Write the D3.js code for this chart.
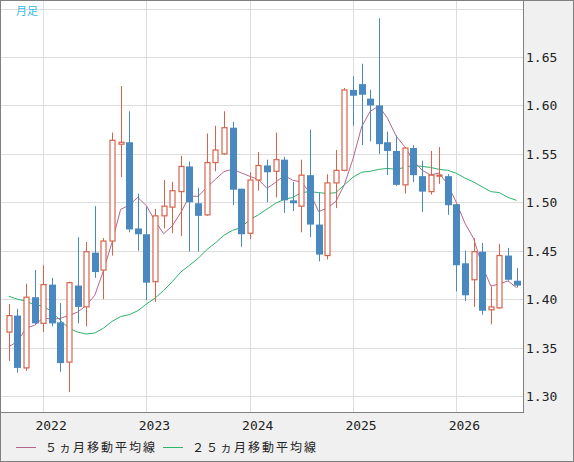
<!DOCTYPE html>
<html><head><meta charset="utf-8">
<script src="https://cdn.jsdelivr.net/npm/d3@7"></script>
<style>body{margin:0;background:#f0f0f0}svg{display:block}</style>
</head><body><svg id="c" width="574" height="462"></svg>
<script>
const opens  = [1.366,1.383,1.329,1.402,1.375,1.415,1.376,1.335,1.414,1.392,1.448,1.430,1.460,1.560,1.562,1.473,1.467,1.418,1.486,1.495,1.511,1.537,1.499,1.487,1.541,1.550,1.577,1.514,1.468,1.523,1.538,1.532,1.544,1.502,1.496,1.528,1.477,1.445,1.520,1.533,1.616,1.622,1.607,1.600,1.562,1.553,1.518,1.556,1.527,1.511,1.527,1.527,1.498,1.437,1.420,1.449,1.389,1.391,1.445,1.419];
const highs  = [1.395,1.390,1.416,1.430,1.435,1.422,1.396,1.418,1.464,1.459,1.496,1.463,1.572,1.620,1.594,1.509,1.495,1.493,1.523,1.521,1.548,1.542,1.515,1.571,1.579,1.594,1.583,1.514,1.531,1.552,1.544,1.572,1.547,1.521,1.544,1.575,1.510,1.529,1.554,1.618,1.630,1.643,1.616,1.690,1.573,1.569,1.557,1.559,1.543,1.553,1.557,1.529,1.498,1.450,1.463,1.458,1.413,1.457,1.453,1.432];
const lows   = [1.336,1.324,1.326,1.374,1.366,1.372,1.325,1.304,1.375,1.372,1.422,1.400,1.445,1.526,1.469,1.450,1.399,1.397,1.473,1.468,1.465,1.449,1.449,1.486,1.532,1.549,1.497,1.454,1.462,1.512,1.500,1.505,1.489,1.491,1.469,1.464,1.439,1.441,1.494,1.532,1.579,1.559,1.563,1.550,1.528,1.517,1.509,1.521,1.490,1.508,1.519,1.487,1.408,1.398,1.392,1.384,1.374,1.390,1.419,1.412];
const closes = [1.383,1.329,1.402,1.375,1.415,1.375,1.334,1.417,1.392,1.449,1.428,1.460,1.564,1.562,1.472,1.467,1.417,1.486,1.496,1.512,1.537,1.500,1.486,1.541,1.554,1.577,1.513,1.467,1.523,1.538,1.531,1.544,1.502,1.499,1.528,1.477,1.446,1.520,1.533,1.616,1.610,1.611,1.600,1.560,1.553,1.518,1.556,1.528,1.511,1.528,1.528,1.497,1.435,1.404,1.449,1.388,1.392,1.445,1.420,1.414];
const ma5Start = [1.351,1.356,1.370,1.373];
const ma25 = [1.403,1.400,1.398,1.394,1.393,1.387,1.378,1.370,1.366,1.364,1.365,1.370,1.377,1.382,1.384,1.388,1.395,1.401,1.409,1.418,1.428,1.435,1.442,1.451,1.458,1.466,1.471,1.474,1.482,1.487,1.493,1.499,1.503,1.505,1.510,1.511,1.510,1.509,1.510,1.518,1.526,1.531,1.532,1.534,1.535,1.534,1.536,1.538,1.537,1.536,1.534,1.533,1.530,1.525,1.521,1.516,1.511,1.510,1.505,1.502];
const yTicks = [1.30,1.35,1.40,1.45,1.50,1.55,1.60,1.65,1.70];
const yearLabels = ["2022","2023","2024","2025","2026"];
const yearIdx = [4,16,28,40,52];

const ma5 = closes.map((c,i)=> i<4 ? ma5Start[i] : d3.mean(closes.slice(i-4,i+1)));
const svg = d3.select("#c");
const L=1,R=523,T=1,B=412;
const x = d3.scaleLinear().domain([0,59]).range([8.7,516.6]);
const y = d3.scaleLinear().domain([1.30,1.65]).range([396,57]);
const idx = d3.range(closes.length);
const up="#d9634a", dn="#4a89bf";

svg.append("rect").attr("x",0.5).attr("y",0.5).attr("width",573).attr("height",461).attr("fill","#f0f0f0").attr("stroke","#808080");
svg.append("rect").attr("x",L).attr("y",T).attr("width",R-L).attr("height",B-T).attr("fill","#fff");
const g = svg.append("g");
yTicks.forEach(t=>{ g.append("line").attr("x1",L).attr("x2",R).attr("y1",Math.round(y(t))+0.5).attr("y2",Math.round(y(t))+0.5).attr("stroke","#dddddd");});
yearIdx.forEach(i=>{ g.append("line").attr("x1",Math.round(x(i))+0.5).attr("x2",Math.round(x(i))+0.5).attr("y1",T).attr("y2",B).attr("stroke","#dddddd");});
svg.append("line").attr("x1",R+0.5).attr("x2",R+0.5).attr("y1",0).attr("y2",B).attr("stroke","#808080");
svg.append("line").attr("x1",0).attr("x2",R+1).attr("y1",B+0.5).attr("y2",B+0.5).attr("stroke","#808080");

const line = d3.line().x((d,i)=>x(i)).y(d=>y(d));
g.append("path").datum(ma25).attr("d",line).attr("fill","none").attr("stroke","#2db36b").attr("stroke-width",1);
g.append("path").datum(ma5).attr("d",line).attr("fill","none").attr("stroke","#b5668f").attr("stroke-width",1);

const cw=6;
idx.forEach(i=>{
  const isUp = closes[i]>=opens[i];
  const col = isUp?up:dn;
  const cx = Math.round(x(i))+0.5;
  g.append("line").attr("x1",cx).attr("x2",cx).attr("y1",y(highs[i])).attr("y2",y(lows[i])).attr("stroke",col).attr("stroke-width",1);
  const top=y(Math.max(opens[i],closes[i])), bot=y(Math.min(opens[i],closes[i]));
  if(isUp){
    g.append("rect").attr("x",cx-cw/2+0.5).attr("y",top).attr("width",cw-1).attr("height",Math.max(1,bot-top)).attr("fill","#fff").attr("stroke",col).attr("stroke-width",1.2);
  } else {
    g.append("rect").attr("x",cx-cw/2-0.5).attr("y",top).attr("width",cw+1).attr("height",Math.max(2,bot-top)).attr("fill",col);
  }
});

const ax = svg.append("g").attr("font-family","DejaVu Sans Mono, monospace").attr("font-size",13).attr("fill","#222");
yTicks.filter(t=>t<1.68).forEach(t=>ax.append("text").attr("x",526).attr("y",y(t)+5).text(t.toFixed(2)));
yearIdx.forEach((i,k)=>ax.append("text").attr("x",x(i)+8).attr("y",430).attr("text-anchor","middle").text(yearLabels[k]));

svg.append("text").attr("x",16).attr("y",15).attr("font-family","Noto Sans CJK JP").attr("font-size",11).attr("fill","#3bb8e8").text("月足");
const lg = svg.append("g").attr("font-family","Noto Sans CJK JP").attr("font-size",12).attr("fill","#222");
lg.append("line").attr("x1",16).attr("x2",36).attr("y1",447.5).attr("y2",447.5).attr("stroke","#b5668f");
lg.append("text").attr("x",45).attr("y",452).attr("letter-spacing",2).text("５ヵ月移動平均線");
lg.append("line").attr("x1",163).attr("x2",183).attr("y1",447.5).attr("y2",447.5).attr("stroke","#2db36b");
lg.append("text").attr("x",192).attr("y",452).attr("letter-spacing",2).text("２５ヵ月移動平均線");
</script></body></html>
